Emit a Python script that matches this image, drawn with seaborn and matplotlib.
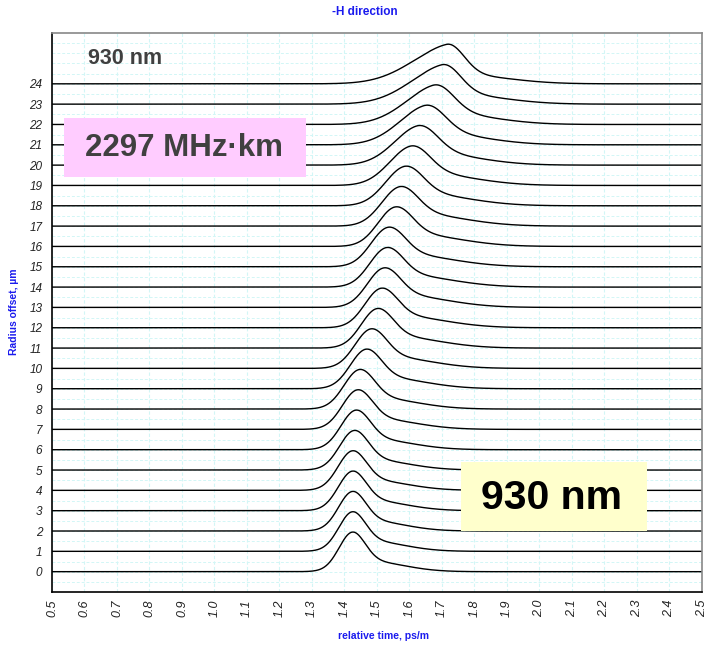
import numpy as np
import pandas as pd
import matplotlib
matplotlib.use("Agg")
import matplotlib.pyplot as plt
import seaborn as sns
from matplotlib.patches import Rectangle

# pulse parameters, one entry per radius offset (0..24 um)
offsets = list(range(25))
peak_time = [1.422, 1.422, 1.422, 1.422, 1.422, 1.427, 1.432, 1.437, 1.443, 1.463,
             1.478, 1.497, 1.509, 1.517, 1.525, 1.530, 1.552, 1.566, 1.581, 1.600,
             1.622, 1.645, 1.673, 1.699, 1.714]
rise_hw = [0.047, 0.048, 0.049, 0.050, 0.051, 0.052, 0.053, 0.054, 0.055, 0.056,
           0.057, 0.057, 0.058, 0.059, 0.060, 0.061, 0.062, 0.066, 0.071, 0.080,
           0.090, 0.100, 0.110, 0.122, 0.132]
fall_hw = [0.046, 0.047, 0.048, 0.049, 0.050, 0.051, 0.052, 0.053, 0.054, 0.055,
           0.056, 0.057, 0.058, 0.059, 0.060, 0.061, 0.062, 0.064, 0.066, 0.068,
           0.070, 0.071, 0.069, 0.064, 0.060]
tail_amp = [0.30, 0.30, 0.30, 0.30, 0.30, 0.30, 0.31, 0.32, 0.33, 0.34,
            0.35, 0.36, 0.37, 0.38, 0.38, 0.38, 0.38, 0.38, 0.37, 0.36,
            0.34, 0.32, 0.30, 0.27, 0.24]
tail_hw = [0.12, 0.12, 0.12, 0.125, 0.13, 0.13, 0.135, 0.14, 0.14, 0.145,
           0.15, 0.155, 0.16, 0.16, 0.165, 0.165, 0.165, 0.165, 0.165, 0.165,
           0.16, 0.16, 0.16, 0.16, 0.16]
pulse_height = 1.95

x_ticks = [round(0.5 + 0.1 * i, 1) for i in range(21)]
y_ticks = offsets

t = np.linspace(0.5, 2.5, 1001)
ln2 = np.log(2)

rows = []
for k in offsets:
    dt = t - peak_time[k]
    hw = np.where(dt < 0, rise_hw[k], fall_hw[k])
    main = np.exp(-ln2 * (dt / hw) ** 2)
    dt2 = dt - 0.06
    hw2 = np.where(dt2 < 0, 0.08, tail_hw[k])
    tail = tail_amp[k] * np.exp(-ln2 * (dt2 / hw2) ** 2)
    shape = main + tail
    shape = shape / shape.max()
    rows.append(pd.DataFrame({"time": t, "level": k + pulse_height * shape, "offset": k}))
df = pd.concat(rows, ignore_index=True)

sns.set_style("white")
plt.rcParams["font.family"] = ["Liberation Sans", "DejaVu Sans"]

fig = plt.figure(figsize=(7.05, 6.49), dpi=100)
ax = fig.add_axes([52 / 705, 57 / 649, 650 / 705, 559 / 649])

grid_c = "#d2f6f6"
for xv in x_ticks:
    ax.axvline(xv, color=grid_c, lw=0.8, ls=(0, (3, 2)), zorder=0)
for yv in np.arange(-0.5, 26.5, 0.5):
    ax.axhline(yv, color=grid_c, lw=0.7, ls=(0, (3, 2)), zorder=0)

sns.lineplot(data=df, x="time", y="level", units="offset", estimator=None,
             color="black", lw=1.0, ax=ax, zorder=2)

ax.set_xlim(0.5, 2.5)
ax.set_ylim(-1, 26.5)
ax.set_xticks(x_ticks)
ax.set_xticklabels([f"{v:.1f}" for v in x_ticks], rotation=90, style="italic",
                   fontsize=9, color="#222222")
ax.set_xticks(np.arange(0.5, 2.5001, 0.02), minor=True)
ax.set_yticks(y_ticks)
ax.set_yticklabels([str(v) for v in y_ticks], style="italic", fontsize=8.5, color="#222222")
ax.set_yticks([v for v in np.arange(-0.5, 26.51, 0.5) if not (0 <= v <= 24 and v == int(v))],
              minor=True)
ax.tick_params(axis="x", which="major", direction="inout", length=7, width=1, pad=2)
ax.tick_params(axis="x", which="minor", direction="in", length=3, width=1)
ax.tick_params(axis="y", which="major", direction="out", length=4, width=1, pad=3)
ax.tick_params(axis="y", which="minor", direction="in", length=4, width=1)
ax.set_xlabel("")
ax.set_ylabel("")

for side in ["left", "bottom"]:
    ax.spines[side].set_color("black")
    ax.spines[side].set_linewidth(1.2)
for side in ["top", "right"]:
    ax.spines[side].set_color("#888888")
    ax.spines[side].set_linewidth(1.2)

# annotation boxes
ax.add_patch(Rectangle((0.537, 19.44), 0.7445, 2.89, facecolor="#ffccff",
                       edgecolor="none", zorder=3))
ax.text(0.5 + (184 - 52) / 325, (572 - 147) / 20.375, "2297 MHz\u00b7km", fontsize=22.5,
        fontweight="bold", color="#404040", ha="center", va="center", zorder=4)
ax.add_patch(Rectangle((1.7585, 2.01), 0.5723, 3.39, facecolor="#ffffcc",
                       edgecolor="none", zorder=3))
ax.text(0.5 + (552 - 52) / 325, (572 - 498) / 20.375, "930 nm", fontsize=29.5,
        fontweight="bold", color="black", ha="center", va="center", zorder=4)
ax.text(0.5 + (125 - 52) / 325, (572 - 58) / 20.375, "930 nm", fontsize=15.5,
        fontweight="bold", color="#404040", ha="center", va="center", zorder=4)

blue = "#1a1aee"
fig.text(365 / 705, 1 - 12 / 649, "-H direction", color=blue, fontsize=8.5,
         fontweight="bold", ha="center", va="center")
fig.text(384 / 705, 1 - 636 / 649, "relative time, ps/m", color=blue, fontsize=7.5,
         fontweight="bold", ha="center", va="center")
fig.text(14 / 705, 1 - 312 / 649, "Radius offset, \u00b5m", color=blue, fontsize=7.5,
         fontweight="bold", ha="center", va="center", rotation=90)

fig.savefig("out.png", dpi=100)
